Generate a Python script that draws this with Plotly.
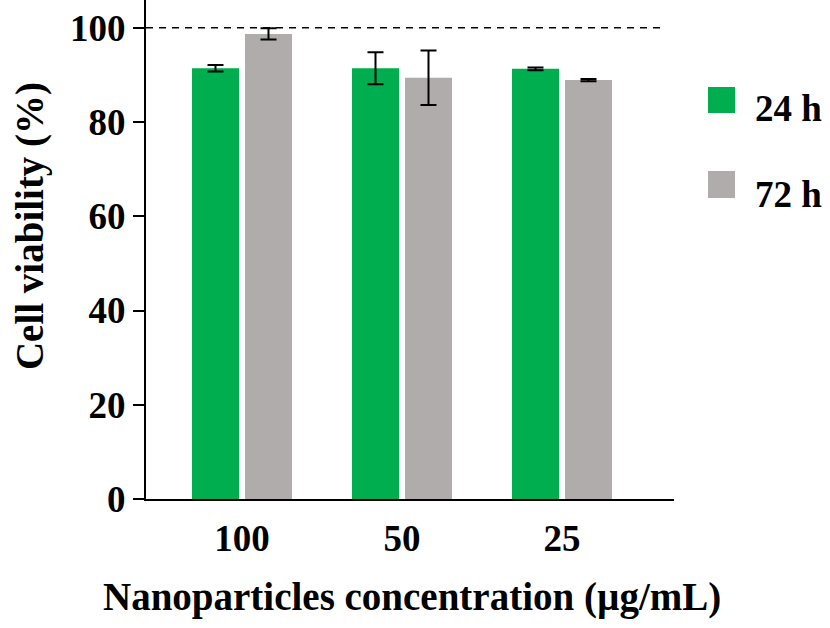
import plotly.graph_objects as go

categories = ["100", "50", "25"]
series_names = ["24 h", "72 h"]
viability_24h = [91.4, 91.4, 91.3]
error_24h = [0.7, 3.4, 0.3]
viability_72h = [98.7, 89.4, 88.9]
error_72h = [1.2, 5.8, 0.25]
y_ticks = [0, 20, 40, 60, 80, 100]
reference_level = 100

GREEN = "#00AE50"
GRAY = "#AFACAB"
FONT = "Liberation Serif"

fig = go.Figure()
for name, vals, errs, col in [
    (series_names[0], viability_24h, error_24h, GREEN),
    (series_names[1], viability_72h, error_72h, GRAY),
]:
    fig.add_trace(go.Bar(
        x=categories, y=vals, name=name,
        marker=dict(color=col, line=dict(width=0)),
        error_y=dict(type="data", array=errs, visible=True,
                     color="black", thickness=2, width=8),
        showlegend=False,
    ))

# reference dashed line at 100 %
fig.add_shape(type="line", xref="paper", yref="y", x0=0, x1=0.979,
              y0=reference_level, y1=reference_level,
              line=dict(color="black", width=1.5, dash="7px,6px"))

# manual legend (large squares)
leg = [(series_names[0], GREEN, 0.8257, 0.7735, 0.783),
       (series_names[1], GRAY, 0.6573, 0.6032, 0.611)]
for name, col, y1, y0, ty in leg:
    fig.add_shape(type="rect", xref="paper", yref="paper",
                  x0=1.0644, x1=1.1155, y0=y0, y1=y1,
                  fillcolor=col, line=dict(width=0))
    fig.add_annotation(text=f"<b>{name}</b>", xref="paper", yref="paper",
                       x=1.149, y=ty, xanchor="left", yanchor="middle",
                       showarrow=False, font=dict(family=FONT, size=37, color="black"))

# axis titles
fig.add_annotation(text="<b>Cell viability (%)</b>", xref="paper", yref="paper",
                   x=-0.2197, y=0.547, xanchor="center", yanchor="middle",
                   textangle=-90, showarrow=False,
                   font=dict(family=FONT, size=39, color="black"))
fig.add_annotation(text="<b>Nanoparticles concentration (µg/mL)</b>", xref="paper", yref="paper",
                   x=0.5047, y=-0.1964, xanchor="center", yanchor="middle",
                   showarrow=False, font=dict(family=FONT, size=39, color="black"))

fig.update_layout(
    width=830, height=628,
    margin=dict(l=146, r=156, t=0, b=129),
    paper_bgcolor="white", plot_bgcolor="white",
    barmode="group", bargap=0.3375, bargroupgap=0.113,
    font=dict(family=FONT, color="black"),
)
fig.update_xaxes(
    type="category", range=[-0.6, 2.7],
    showline=True, linecolor="black", linewidth=2,
    ticks="", showgrid=False, zeroline=False,
    tickfont=dict(family=FONT, size=37, color="black"),
    tickprefix="<b>", ticksuffix="</b>",
    ticklabelstandoff=6,
)
fig.update_yaxes(
    range=[0, 105.9], tickvals=y_ticks,
    ticktext=[f"<b>{v}</b>" for v in y_ticks],
    showline=True, linecolor="black", linewidth=2,
    ticks="outside", ticklen=11, tickwidth=2, tickcolor="black",
    showgrid=False, zeroline=False,
    tickfont=dict(family=FONT, size=37, color="black"),
)

fig.write_html("out.html", config={"displayModeBar": False},
               post_script="document.body.style.margin='0';document.body.style.overflow='hidden';")
